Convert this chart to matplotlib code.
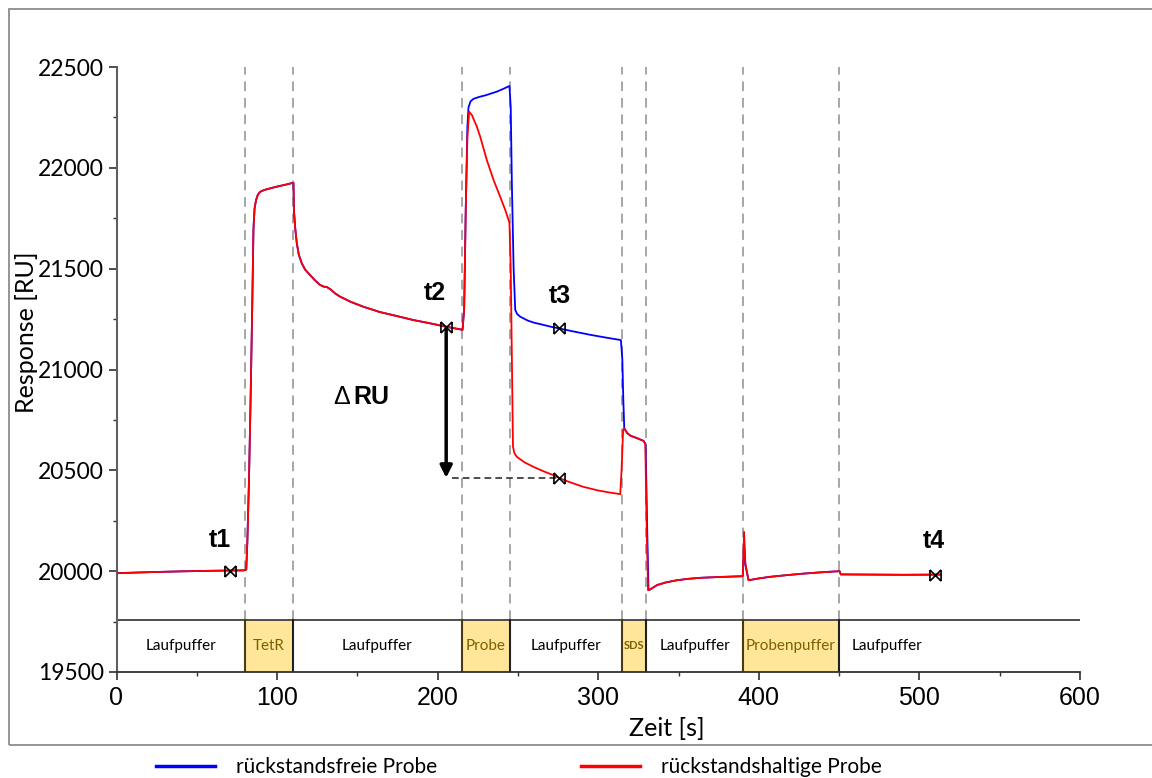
import matplotlib.pyplot as plt
from matplotlib.path import Path
from matplotlib.patches import Rectangle
from matplotlib.lines import Line2D

# Sensorgram, shared part (baseline, TetR injection, dissociation)
t_common = [0, 20, 40, 60, 79.5, 80.8, 81.5, 82.5, 83.5, 84.5, 85.3, 86.0, 86.9, 88.0,
            89.4, 92.0, 95.6, 100, 105, 110.2, 110.5, 111.3, 112.3, 113.5, 115.4, 117.5,
            120.6, 123.5, 126.8, 129, 131, 133.5, 136, 139.3, 146, 153.8, 164, 174.6, 185,
            195.3, 205.3, 215.5]
ru_common = [19990, 19995, 19999, 20002, 20004, 20008, 20150, 20450, 20850, 21300, 21700,
             21800, 21840, 21866, 21881, 21890, 21898, 21907, 21916, 21926, 21790, 21700,
             21625, 21570, 21526, 21495, 21468, 21443, 21419, 21411, 21409, 21396, 21378,
             21361, 21335, 21311, 21285, 21265, 21245, 21229, 21212, 21197]

# residue-free sample
t_free = [216.5, 217.5, 218.5, 219.2, 220.5, 222.3, 226, 230, 236.9, 241, 244.7, 245.5,
          246.2, 247.3, 248.3, 249.5, 251.4, 256, 260, 263.9, 270, 275.3, 285, 295, 305,
          314.1, 315, 315.6, 316.2, 318, 320, 324, 328.2, 329.5, 330.5, 331.3, 332.5, 336.6,
          342, 349, 356, 363.6, 375, 390, 390.8, 391.6, 393.6, 400, 407, 417, 428, 440,
          450.3, 451, 470, 490, 513]
ru_free = [21300, 21800, 22200, 22300, 22330, 22342, 22352, 22360, 22378, 22392, 22406,
           22300, 21923, 21500, 21295, 21275, 21262, 21243, 21232, 21225, 21213, 21204,
           21188, 21172, 21158, 21146, 21050, 20850, 20708, 20685, 20672, 20660, 20646,
           20630, 20200, 19906, 19910, 19931, 19944, 19955, 19962, 19967, 19971, 19975,
           20140, 20030, 19955, 19964, 19972, 19980, 19988, 19995, 20000, 19984, 19983,
           19982, 19983]

# residue-containing sample
t_res = [216.5, 217.5, 218.5, 219.6, 221.3, 224.4, 226.5, 230.6, 234.8, 238.9, 242.1,
         244.7, 245.5, 246.3, 246.9, 247.8, 249.3, 254, 259.7, 266, 272.1, 275.3, 282,
         290.8, 300, 307, 313.7, 314.5, 315.5, 316.2, 318, 320, 324, 328.2, 329.3, 330.2,
         331.0, 332.5, 336.6, 342, 349, 356, 363.6, 375, 390, 390.8, 391.6, 393.6, 400,
         407, 417, 428, 440, 450.3, 451, 470, 490, 513]
ru_res = [21300, 21800, 22150, 22278, 22262, 22204, 22154, 22039, 21940, 21857, 21791,
          21728, 21500, 21000, 20617, 20585, 20567, 20540, 20517, 20495, 20476, 20463,
          20442, 20418, 20400, 20390, 20382, 20500, 20700, 20708, 20685, 20672, 20660,
          20646, 20630, 20200, 19906, 19910, 19931, 19944, 19955, 19962, 19967, 19971,
          19975, 20195, 20040, 19955, 19964, 19972, 19980, 19988, 19995, 20000, 19984,
          19983, 19982, 19983]

# flow phases
phase_edges = [0, 80, 110, 215, 245, 315, 330, 390, 450, 600]
phase_names = ['Laufpuffer', 'TetR', 'Laufpuffer', 'Probe', 'Laufpuffer', 'SDS',
               'Laufpuffer', 'Probenpuffer', 'Laufpuffer']
phase_injected = [False, True, False, True, False, True, False, True, False]
phase_text_x = [40, 95, 162.5, 230, 280, 322.5, 360, 420, 480]

# report points
pt_names = ['t1', 't2', 't3', 't4']
pt_x = [70.8, 205.3, 275.3, 510]
pt_y = [20000, 21212, 21204, 19983]
pt_label_x = [64.5, 198.4, 276.3, 508.7]
pt_label_y = [20154, 21379, 21364, 20149]
t3_res_y = 20463

t_free_all = t_common + t_free
ru_free_all = ru_common + ru_free
t_res_all = t_common + t_res
ru_res_all = ru_common + ru_res

band_top = 19757
ymin, ymax = 19500, 22500

calibri_like = 'Lato'
arial_like = 'Liberation Sans'

fig = plt.figure(figsize=(11.52, 7.78), dpi=100)
ax = fig.add_axes([116.5 / 1152, 1 - 672 / 778, (1080 - 116.5) / 1152, (672 - 67) / 778])

# outer frame
fig.patches.append(Rectangle((9 / 1152, 1 - 745 / 778), 1.2, (745 - 9) / 778,
                             transform=fig.transFigure, fill=False,
                             edgecolor='#8c8c8c', lw=1.3))

# phase boundaries
for e in phase_edges[1:-1]:
    ax.plot([e, e], [band_top, ymax], color='#a6a6a6', lw=1.4,
            linestyle=(0, (5, 3.5)), zorder=1)

# phase table under the curves
ax.plot([0, 600], [band_top, band_top], color='#404040', lw=1.3, zorder=2)
for i, name in enumerate(phase_names):
    x0, x1 = phase_edges[i], phase_edges[i + 1]
    if phase_injected[i]:
        ax.add_patch(Rectangle((x0, ymin), x1 - x0, band_top - ymin,
                               facecolor='#ffe699', edgecolor='none', zorder=1))
        ax.plot([x0, x0], [ymin, band_top], color='#4a3c10', lw=1.5, zorder=2)
        ax.plot([x1, x1], [ymin, band_top], color='#202020', lw=1.5, zorder=2)
        if name == 'SDS':
            ax.text(phase_text_x[i], 19630, name, ha='center', va='center',
                    fontsize=8, fontweight='bold', color='#7f6000', family=calibri_like)
        else:
            ax.text(phase_text_x[i], 19630, name, ha='center', va='center',
                    fontsize=11, color='#7f6000', family=calibri_like)
    else:
        ax.text(phase_text_x[i], 19630, name, ha='center', va='center',
                fontsize=11, color='black', family=calibri_like)

# sensorgrams
ax.plot(t_free_all, ru_free_all, color='#0000ff', lw=1.3, zorder=4,
        label='rückstandsfreie Probe')
ax.plot(t_res_all, ru_res_all, color='#ff0000', lw=1.3, zorder=5,
        label='rückstandshaltige Probe')

# bow-tie report point marker
bowtie = Path([(-1, -1), (1, 1), (-1, 1), (1, -1), (-1, -1), (-1, 1), (1, -1), (1, 1)],
              [Path.MOVETO, Path.LINETO, Path.MOVETO, Path.LINETO,
               Path.MOVETO, Path.LINETO, Path.MOVETO, Path.LINETO])
ax.plot(pt_x + [pt_x[2]], pt_y + [t3_res_y], linestyle='none', marker=bowtie,
        markersize=8, markeredgecolor='black', markerfacecolor='none', mew=1.2, zorder=6)
for name, lx, ly in zip(pt_names, pt_label_x, pt_label_y):
    ax.text(lx, ly, name, ha='center', va='center', fontsize=18, fontweight='bold',
            family=arial_like)

# delta RU between t2 and t3 of the residue-containing sample
ax.annotate('', xy=(pt_x[1], t3_res_y), xytext=(pt_x[1], pt_y[1] - 8),
            arrowprops=dict(arrowstyle='-|>', lw=2.5, color='black',
                            mutation_scale=18, shrinkA=0, shrinkB=0), zorder=6)
ax.plot([pt_x[1] + 3.5, pt_x[2]], [t3_res_y, t3_res_y], color='#303030', lw=1.2,
        linestyle=(0, (4, 2.5)), zorder=3)
ax.text(140.5, 20863, 'Δ', ha='center', va='center', fontsize=18, family=arial_like)
ax.text(159, 20863, 'RU', ha='center', va='center', fontsize=18, fontweight='bold',
        family=arial_like)

# axes
ax.set_xlim(0, 600)
ax.set_ylim(ymin, ymax)
ax.set_xticks([0, 100, 200, 300, 400, 500, 600])
ax.set_xticks([50, 150, 250, 350, 450, 550], minor=True)
ax.set_yticks([19500, 20000, 20500, 21000, 21500, 22000, 22500])
ax.set_yticks([19750, 20250, 20750, 21250, 21750, 22250], minor=True)
for s in ['top', 'right']:
    ax.spines[s].set_visible(False)
ax.spines['left'].set_color('#606060')
ax.spines['bottom'].set_color('#303030')
ax.spines['left'].set_linewidth(1.5)
ax.spines['bottom'].set_linewidth(1.3)
ax.tick_params(axis='both', which='major', length=6, width=1.2, color='#303030')
ax.tick_params(axis='both', which='minor', length=3, width=1, color='#303030')
ax.tick_params(axis='x', pad=4)
ax.tick_params(axis='y', pad=3)
for lab in ax.get_yticklabels():
    lab.set_family(calibri_like)
    lab.set_fontsize(16.5)
for lab in ax.get_xticklabels():
    lab.set_family(arial_like)
    lab.set_fontsize(18)
ax.set_xlabel('Zeit [s]', fontsize=18, family=calibri_like)
ax.set_ylabel('Response [RU]', fontsize=18, family=calibri_like)
ax.xaxis.set_label_coords(0.571, -0.075)
ax.yaxis.set_label_coords(-0.081, 0.562)

handles = [Line2D([], [], color='#0000ff', lw=2.5), Line2D([], [], color='#ff0000', lw=2.5)]
fig.legend(handles, ['rückstandsfreie Probe', 'rückstandshaltige Probe'], ncol=2,
           loc='center left', bbox_to_anchor=(156 / 1152, 11 / 778), frameon=False,
           borderpad=0, borderaxespad=0, handlelength=2.85, handletextpad=1.0,
           columnspacing=6.9, prop={'family': calibri_like, 'size': 15})

fig.savefig('out.png', dpi=100)
